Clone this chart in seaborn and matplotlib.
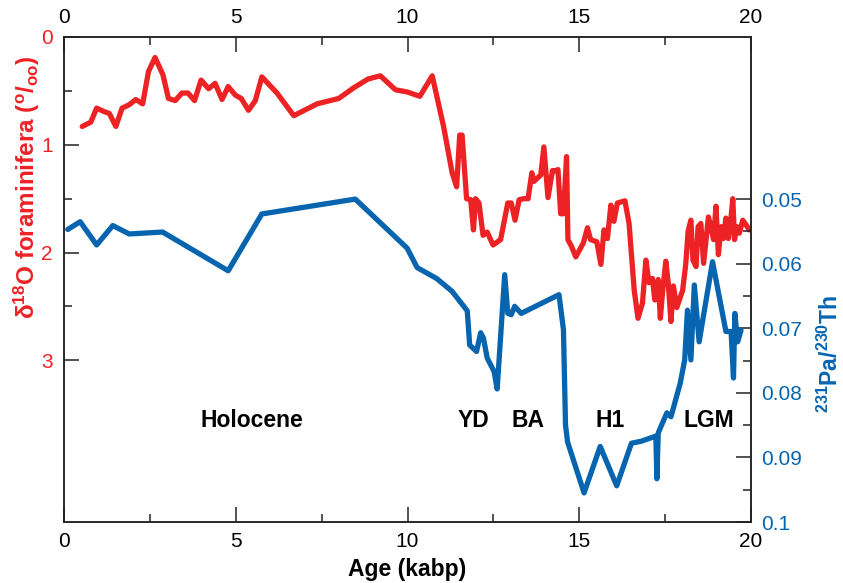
import matplotlib
matplotlib.use("Agg")
import matplotlib.pyplot as plt
import seaborn as sns
import pandas as pd
from matplotlib.ticker import FixedLocator, MultipleLocator

sns.set_theme(style="ticks")
plt.rcParams['font.family'] = ['Liberation Sans', 'DejaVu Sans']
plt.rcParams.update({
    'mathtext.fontset': 'custom',
    'mathtext.rm': 'Liberation Sans',
    'mathtext.bf': 'Liberation Sans:bold',
    'mathtext.default': 'bf',
})

RED = '#ed2224'
BLUE = '#0765b0'

# d18O foraminifera (permil), left axis
d18o_age = [0.53, 0.78, 0.95, 1.15, 1.32, 1.51, 1.69, 1.89, 2.09, 2.29, 2.46, 2.65, 2.88,
            3.04, 3.24, 3.43, 3.61, 3.80, 3.99, 4.21, 4.40, 4.60, 4.78, 4.99, 5.16, 5.37,
            5.57, 5.76, 6.20, 6.69, 7.37, 8.00, 8.44, 8.85, 9.21, 9.65, 9.99, 10.36, 10.72,
            11.05, 11.30, 11.43, 11.52, 11.59, 11.72, 11.84, 11.92, 11.98, 12.08, 12.20,
            12.32, 12.49, 12.71, 12.92, 13.02, 13.13, 13.25, 13.39, 13.51, 13.62, 13.68,
            13.88, 13.97, 14.09, 14.22, 14.31, 14.38, 14.46, 14.54, 14.63, 14.67, 14.77,
            14.90, 15.12, 15.24, 15.33, 15.51, 15.63, 15.72, 15.82, 15.92, 16.01, 16.11,
            16.33, 16.45, 16.60, 16.71, 16.84, 16.94, 17.03, 17.13, 17.20, 17.30, 17.36,
            17.43, 17.52, 17.59, 17.67, 17.74, 17.84, 18.01, 18.10, 18.17, 18.25, 18.31,
            18.40, 18.46, 18.54, 18.62, 18.76, 18.83, 18.91, 18.98, 19.05, 19.13, 19.20,
            19.27, 19.34, 19.42, 19.47, 19.52, 19.59, 19.66, 19.76, 19.85, 19.95]
d18o_val = [0.83, 0.79, 0.66, 0.69, 0.71, 0.83, 0.66, 0.63, 0.58, 0.62, 0.32, 0.19, 0.35,
            0.57, 0.59, 0.52, 0.52, 0.59, 0.40, 0.48, 0.43, 0.58, 0.46, 0.54, 0.57, 0.68,
            0.59, 0.37, 0.52, 0.73, 0.62, 0.57, 0.47, 0.39, 0.36, 0.49, 0.51, 0.55, 0.36,
            0.83, 1.26, 1.39, 0.91, 0.91, 1.50, 1.51, 1.79, 1.50, 1.54, 1.84,
            1.81, 1.93, 1.88, 1.54, 1.54, 1.70, 1.51, 1.50, 1.50, 1.26, 1.34,
            1.28, 1.02, 1.49, 1.24, 1.24, 1.23, 1.64, 1.64, 1.11, 1.88, 1.94,
            2.04, 1.91, 1.77, 1.88, 1.90, 2.11, 1.79, 1.87, 1.56, 1.71, 1.54,
            1.52, 1.73, 2.35, 2.61, 2.47, 2.07, 2.28, 2.24, 2.44, 2.25, 2.61,
            2.35, 2.08, 2.28, 2.64, 2.31, 2.51, 2.35, 2.11, 1.80, 1.70, 2.07,
            2.13, 1.76, 1.73, 2.10, 1.67, 1.76, 1.88, 1.57, 2.02, 1.76, 1.87,
            1.68, 1.87, 1.67, 1.50, 1.88, 1.76, 1.82, 1.70, 1.74, 1.79]

# 231Pa/230Th ratio, right axis
pa_age = [0.11, 0.47, 0.95, 1.42, 1.90, 2.87, 4.78, 5.76, 8.48, 9.99, 10.28, 10.85, 11.30,
          11.74, 11.81, 12.01, 12.13, 12.21, 12.32, 12.52, 12.61, 12.83, 12.92, 13.02,
          13.12, 13.31, 14.41, 14.54, 14.60, 14.66, 15.14, 15.61, 16.09, 16.52, 16.80,
          17.23, 17.26, 17.30, 17.55, 17.67, 17.94, 18.07, 18.15, 18.25, 18.35, 18.49,
          18.88, 19.27, 19.42, 19.49, 19.53, 19.61, 19.71]
pa_val = [0.0547, 0.0535, 0.0571, 0.0541, 0.0554, 0.0551, 0.0611, 0.0523, 0.0500, 0.0576,
          0.0606, 0.0623, 0.0643, 0.0673, 0.0726, 0.0736, 0.0707, 0.0715, 0.0746, 0.0767,
          0.0794, 0.0617, 0.0677, 0.0679, 0.0666, 0.0677, 0.0648, 0.0702, 0.0850, 0.0876,
          0.0955, 0.0883, 0.0944, 0.0878, 0.0875, 0.0867, 0.0933, 0.0862, 0.0831, 0.0837,
          0.0785, 0.0749, 0.0672, 0.0749, 0.0633, 0.0721, 0.0597, 0.0705, 0.0705, 0.0777,
          0.0677, 0.0721, 0.0703]

left_ticks = [0, 1, 2, 3]
left_minor = [0.5, 1.5, 2.5]
right_ticks = [0.05, 0.06, 0.07, 0.08, 0.09, 0.10]
right_labels = ['0.05', '0.06', '0.07', '0.08', '0.09', '0.1']
right_minor = [0.055, 0.065, 0.075, 0.085, 0.095]

periods = ['Holocene', 'YD', 'BA', 'H1', 'LGM']
period_age = [5.47, 11.91, 13.51, 15.91, 18.76]
period_level = 3.56

red_df = pd.DataFrame({'age': d18o_age, 'd18o': d18o_val})
blue_df = pd.DataFrame({'age': pa_age, 'pa': pa_val})

fig = plt.figure(figsize=(8.43, 5.83), dpi=100)
ax = fig.add_axes([64 / 843, 1 - 522 / 583, 687 / 843, 485 / 583])
ax2 = ax.twinx()

sns.lineplot(data=red_df, x='age', y='d18o', ax=ax, color=RED, lw=3.8,
             sort=False, estimator=None)
sns.lineplot(data=blue_df, x='age', y='pa', ax=ax2, color=BLUE, lw=3.8,
             sort=False, estimator=None)

ax.set_xlim(0, 20)
ax.set_ylim(4.5, 0)
ax2.set_ylim(0.1, 0.0249)

# ticks
ax.xaxis.set_major_locator(MultipleLocator(5))
ax.xaxis.set_minor_locator(MultipleLocator(2.5))
ax.yaxis.set_major_locator(FixedLocator(left_ticks))
ax.yaxis.set_minor_locator(FixedLocator(left_minor))
ax2.set_yticks(right_ticks)
ax2.set_yticklabels(right_labels)
ax2.yaxis.set_minor_locator(FixedLocator(right_minor))

ax.tick_params(axis='x', which='both', direction='in', top=True, labeltop=True,
               bottom=True, labelbottom=True, colors='#222222', labelcolor='black',
               labelsize=15, pad=7)
ax.tick_params(axis='y', which='both', direction='in', left=True, right=False,
               colors='#222222', labelcolor=RED, labelsize=15, pad=8)
ax2.tick_params(axis='y', which='both', direction='in', right=True,
                colors='#222222', labelcolor=BLUE, labelsize=15, pad=7)
for a in (ax, ax2):
    a.tick_params(which='major', length=11, width=1.1)
    a.tick_params(which='minor', length=6, width=1.1)
    for s in a.spines.values():
        s.set_linewidth(1.1)
        s.set_color('#222222')

ax.set_xlabel('Age (kabp)', fontsize=16.5, fontweight='bold', color='black', labelpad=5)
ax.set_ylabel(r'δ$^{18}$O foraminifera ($^{\mathregular{o}}$/$_{\mathregular{oo}}$)',
              fontsize=17.5, fontweight='bold', color=RED, va='center')
ax.yaxis.set_label_coords(-0.054, 0.69)
ax2.set_ylabel(r'$^{231}$Pa/$^{230}$Th', fontsize=16.5, fontweight='bold',
               color=BLUE, va='center')
ax2.yaxis.set_label_coords(1.115, 0.346)

for name, xa in zip(periods, period_age):
    ax.text(xa, period_level, name, ha='center', va='center',
            fontsize=16.5, fontweight='bold', color='black')

fig.savefig('out.png', dpi=100)
